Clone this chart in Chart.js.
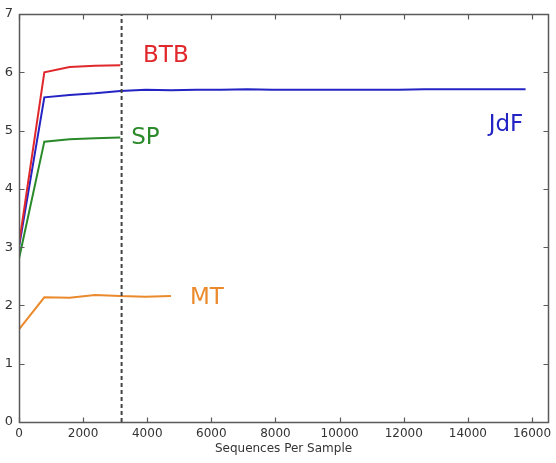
<!DOCTYPE html>
<html>
<head>
<meta charset="utf-8">
<script src="https://cdn.jsdelivr.net/npm/chart.js@4"></script>
<style>
  html, body { margin: 0; padding: 0; background: #fff; }
  #wrap { width: 556px; height: 463px; }
</style>
</head>
<body>
<div id="wrap"><canvas id="rareChart"></canvas></div>
<script>
// sequences per sample (rarefaction depths)
const depths = [0, 790, 1580, 2370, 3160, 3950, 4740, 5530, 6320, 7110, 7900,
    8690, 9480, 10270, 11060, 11850, 12640, 13430, 14220, 15010, 15800];

const btb = [3.05, 6.0, 6.09, 6.11, 6.12];
const sp = [2.8, 4.81, 4.85, 4.87, 4.88];
const mt = [1.59, 2.14, 2.13, 2.18, 2.16, 2.15, 2.16];
const jdf = [3.0, 5.57, 5.61, 5.64, 5.68, 5.70, 5.69, 5.70, 5.70, 5.71, 5.70,
    5.70, 5.70, 5.70, 5.70, 5.70, 5.71, 5.71, 5.71, 5.71, 5.71];

const cutoff = 3200;
const xTicks = [0, 2000, 4000, 6000, 8000, 10000, 12000, 14000, 16000];
const yTicks = [0, 1, 2, 3, 4, 5, 6, 7];

// label text with anchor in data units
const labels = [
    { text: 'BTB', x: 3870, y: 6.28, color: '#e0282c', align: 'left' },
    { text: 'SP', x: 3500, y: 4.87, color: '#2a8a2a', align: 'left' },
    { text: 'JdF', x: 15730, y: 5.09, color: '#2424c4', align: 'right' },
    { text: 'MT', x: 5330, y: 2.13, color: '#ea8a2c', align: 'left' }
];

const toPoints = vals => vals.map((v, i) => ({ x: depths[i], y: v }));

const line = (name, vals, color) => ({
    label: name,
    data: toPoints(vals),
    showLine: true,
    borderColor: color,
    borderWidth: 2,
    pointRadius: 0,
    tension: 0
});

// frame with inward ticks + text labels
const framePlugin = {
    id: 'frame',
    afterDraw(chart) {
        const { ctx, chartArea: a, scales } = chart;
        const l = Math.round(a.left) + 0.5, r = Math.round(a.right) + 0.5;
        const t = Math.round(a.top) + 0.5, b = Math.round(a.bottom) + 0.5;
        ctx.save();
        ctx.strokeStyle = '#5a5a5a';
        ctx.lineWidth = 1.5;
        ctx.beginPath();
        ctx.moveTo(l, t); ctx.lineTo(r, t); ctx.lineTo(r, b); ctx.lineTo(l, b); ctx.closePath();
        ctx.stroke();
        ctx.lineWidth = 1.2;
        ctx.beginPath();
        xTicks.forEach(v => {
            const px = Math.round(scales.x.getPixelForValue(v)) + 0.5;
            ctx.moveTo(px, b); ctx.lineTo(px, b - 5);
            ctx.moveTo(px, t); ctx.lineTo(px, t + 5);
        });
        yTicks.forEach(v => {
            const py = Math.round(scales.y.getPixelForValue(v)) + 0.5;
            ctx.moveTo(l, py); ctx.lineTo(l + 5, py);
            ctx.moveTo(r, py); ctx.lineTo(r - 5, py);
        });
        ctx.stroke();

        ctx.font = '23px "DejaVu Sans"';
        ctx.textBaseline = 'middle';
        labels.forEach(lb => {
            ctx.fillStyle = lb.color;
            ctx.textAlign = lb.align;
            ctx.fillText(lb.text, scales.x.getPixelForValue(lb.x), scales.y.getPixelForValue(lb.y));
        });
        ctx.restore();
    }
};

const config = {
    type: 'scatter',
    data: {
        datasets: [
            {
                label: 'cutoff',
                data: [{ x: cutoff, y: 0 }, { x: cutoff, y: 7 }],
                showLine: true,
                borderColor: '#444',
                borderWidth: 2,
                borderDash: [4, 3],
                pointRadius: 0
            },
            line('BTB', btb, '#e0282c'),
            line('JdF', jdf, '#2424c4'),
            line('SP', sp, '#2a8a2a'),
            line('MT', mt, '#ea8a2c')
        ]
    },
    options: {
        responsive: true,
        maintainAspectRatio: false,
        animation: false,
        layout: { padding: { left: 0, right: 8, top: 14, bottom: 0 } },
        scales: {
            x: {
                type: 'linear',
                min: 0,
                max: 16500,
                grid: { display: false, drawTicks: false },
                border: { display: false },
                afterBuildTicks: s => { s.ticks = xTicks.map(v => ({ value: v })); },
                afterFit: s => { s.height = 41; s.paddingLeft = 0; s.paddingRight = 0; },
                ticks: {
                    color: '#333',
                    padding: 5,
                    maxRotation: 0,
                    callback: v => String(v),
                    font: { family: 'DejaVu Sans', size: 12 }
                },
                title: {
                    display: true,
                    text: 'Sequences Per Sample',
                    color: '#333',
                    padding: { top: 0, bottom: 7 },
                    font: { family: 'DejaVu Sans', size: 12 }
                }
            },
            y: {
                min: 0,
                max: 7,
                grid: { display: false, drawTicks: false },
                border: { display: false },
                afterBuildTicks: s => { s.ticks = yTicks.map(v => ({ value: v })); },
                afterFit: s => { s.width = 19; s.paddingTop = 0; s.paddingBottom = 0; },
                ticks: {
                    color: '#333',
                    padding: 6,
                    font: { family: 'DejaVu Sans', size: 13 }
                }
            }
        },
        plugins: {
            legend: { display: false },
            tooltip: { enabled: false }
        }
    },
    plugins: [framePlugin]
};

new Chart(document.querySelector('#rareChart'), config);
</script>
</body>
</html>
